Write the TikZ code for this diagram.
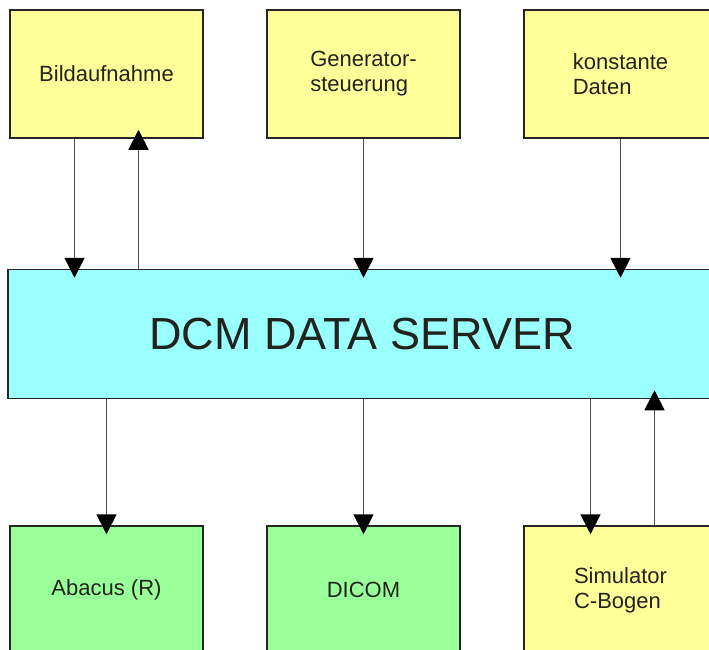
\documentclass[tikz,border=0pt]{standalone}
\usepackage{fontspec}
\setmainfont{Liberation Sans}
\usetikzlibrary{arrows.meta}
\definecolor{hellgelb}{RGB}{255,255,153}
\definecolor{hellcyan}{RGB}{153,255,255}
\definecolor{hellgruen}{RGB}{153,255,153}
\definecolor{schrift}{RGB}{35,35,30}
\begin{document}
\begin{tikzpicture}[x=1pt,y=-1pt,
    kasten/.style={draw=black!85,line width=1.5pt,minimum width=193pt,minimum height=128pt,
      inner sep=0pt,align=left,text=schrift,font=\fontsize{22}{25}\selectfont},
    pfeil/.style={-{Triangle[width=20pt,length=20pt,color=black]},line width=1.8pt,
      draw=black!70,shorten >=-9pt}]
    \useasboundingbox (0,0) rectangle (709,650);
    \clip (0,0) rectangle (709,650);
    % obere Reihe
    \node[kasten,fill=hellgelb] (bild) at (106.5,74) {Bildaufnahme};
    \node[kasten,fill=hellgelb] (gen) at (363.5,74) {Generator-\\steuerung};
    \node[kasten,fill=hellgelb] (konst) at (620.5,74) {konstante\\Daten};
    % Server
    \node[kasten,fill=hellcyan,minimum width=708pt,minimum height=129pt,
      font=\fontsize{45}{50}\selectfont] (server) at (362,334) {DCM DATA SERVER};
    % untere Reihe
    \node[kasten,fill=hellgruen] (abacus) at (106.5,590) {Abacus (R)};
    \node[kasten,fill=hellgruen] (dicom) at (363.5,590) {DICOM};
    \node[kasten,fill=hellgelb] (sim) at (620.5,590) {Simulator\\C-Bogen};
    % Pfeile oben
    \draw[pfeil] ([xshift=-32pt]bild.south) -- ([xshift=-32pt]bild.south |- server.north);
    \draw[pfeil] ([xshift=32pt]bild.south |- server.north) -- ([xshift=32pt]bild.south);
    \draw[pfeil] (gen.south) -- (gen.south |- server.north);
    \draw[pfeil] (konst.south) -- (konst.south |- server.north);
    % Pfeile unten
    \draw[pfeil] (abacus.north |- server.south) -- (abacus.north);
    \draw[pfeil] (dicom.north |- server.south) -- (dicom.north);
    \draw[pfeil] ([xshift=-30pt]sim.north |- server.south) -- ([xshift=-30pt]sim.north);
    \draw[pfeil] ([xshift=34pt]sim.north) -- ([xshift=34pt]sim.north |- server.south);
\end{tikzpicture}
\end{document}
